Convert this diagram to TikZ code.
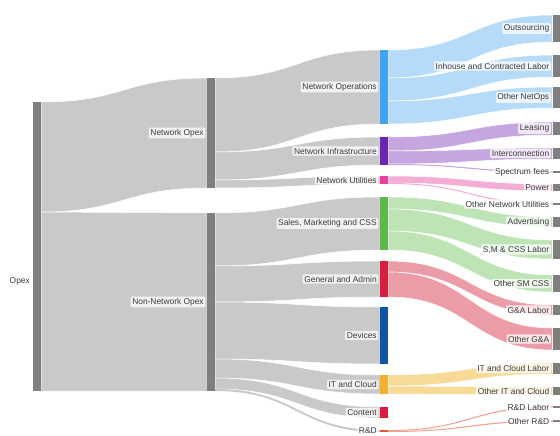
\documentclass[tikz,border=0pt]{standalone}
\usepackage{fontspec}
\setmainfont{Liberation Sans}
\usetikzlibrary{calc}
\definecolor{gbar}{HTML}{7F7F7F}
\definecolor{gflow}{HTML}{C9C9C9}
\definecolor{opsblue}{HTML}{3FA3F2}
\definecolor{opsflow}{HTML}{B5DBF8}
\definecolor{infrapurple}{HTML}{6A26AC}
\definecolor{infraflow}{HTML}{C5A6E1}
\definecolor{utilpink}{HTML}{E8409C}
\definecolor{utilflow}{HTML}{F4AED6}
\definecolor{salesgreen}{HTML}{5CB94C}
\definecolor{salesflow}{HTML}{BEE3B4}
\definecolor{gared}{HTML}{D6203C}
\definecolor{gaflow}{HTML}{EC9CA7}
\definecolor{devblue}{HTML}{0D56A3}
\definecolor{itorange}{HTML}{F1B12C}
\definecolor{itflow}{HTML}{F8DA97}
\definecolor{contred}{HTML}{D81E3A}
\definecolor{rdorange}{HTML}{EC5433}
\definecolor{rdflow}{HTML}{F0A393}
\definecolor{labeltext}{HTML}{3C3C3C}

\pgfdeclarelayer{bands}
\pgfsetlayers{bands,main}

\tikzset{
  seam/.style={draw=white, line width=0.5pt},
  thinband/.style={draw=none},
  barbox/.style={rectangle, inner sep=0pt, outer sep=0pt, minimum width=8pt,
    anchor=north west, draw=none},
  tag/.style={anchor=east, fill=white, fill opacity=0.75, text opacity=1,
    text=labeltext, inner xsep=1.6pt, inner ysep=1.5pt, rounded corners=1pt,
    font=\fontsize{8.4}{9}\selectfont},
  plain/.style={anchor=east, text=labeltext, inner sep=1pt,
    font=\fontsize{8.4}{9}\selectfont},
}

% a stage of the sankey: name, colour, left x, top y, bottom y
\newcommand{\stagebar}[5]{%
  \pgfmathsetmacro{\sbh}{max(#5-#4,1.2)}%
  \node[barbox, fill=#2, minimum height=\sbh pt] (#1) at (#3,#4) {};}

% a band between two stages: [style] colour, source, top/bottom offset on it,
% target, top/bottom offset on it (offsets measured down from the bar tops)
\newcommand{\flowband}[8][seam]{%
  \path[fill=#2,#1] let \p1=(#3.north east), \p2=(#6.north west) in
    ({\x1},{\y1-#4pt}) .. controls ({0.5*(\x1+\x2)},{\y1-#4pt}) and ({0.5*(\x1+\x2)},{\y2-#7pt}) .. ({\x2},{\y2-#7pt})
    -- ({\x2},{\y2-#8pt}) .. controls ({0.5*(\x1+\x2)},{\y2-#8pt}) and ({0.5*(\x1+\x2)},{\y1-#5pt}) .. ({\x1},{\y1-#5pt}) -- cycle;}

% label on the left of a stage
\newcommand{\stagetag}[2]{\node[tag] (#1-tag) at ([xshift=-1.5pt]#1.west) {#2};}

\begin{document}
\begin{tikzpicture}[x=1pt,y=-1pt]
\useasboundingbox (0,0) rectangle (560,436);

% ---- stages ----
\stagebar{opex}{gbar}{33}{102}{391}
\stagebar{netopex}{gbar}{207}{78}{188}
\stagebar{nonnet}{gbar}{207}{213}{391}

\stagebar{netops}{opsblue}{380}{50}{124}
\stagebar{netinfra}{infrapurple}{380}{137}{165}
\stagebar{netutil}{utilpink}{380}{176}{184}
\stagebar{sales}{salesgreen}{380}{197}{250}
\stagebar{gna}{gared}{380}{261}{297}
\stagebar{devices}{devblue}{380}{307}{364}
\stagebar{itc}{itorange}{380}{375}{394}
\stagebar{content}{contred}{380}{407}{418}
\stagebar{rnd}{rdorange}{380}{430}{432}

\stagebar{outs}{gbar}{552.5}{15}{42}
\stagebar{inhouse}{gbar}{552.5}{55}{77}
\stagebar{othnetops}{gbar}{552.5}{87}{108}
\stagebar{leasing}{gbar}{552.5}{122}{135}
\stagebar{interc}{gbar}{552.5}{148}{159}
\stagebar{spectrum}{gbar}{552.5}{171.4}{172.6}
\stagebar{power}{gbar}{552.5}{184}{191}
\stagebar{othnu}{gbar}{552.5}{203.4}{204.6}
\stagebar{advert}{gbar}{552.5}{217}{227}
\stagebar{smlabor}{gbar}{552.5}{240}{259}
\stagebar{othsm}{gbar}{552.5}{275}{292}
\stagebar{galabor}{gbar}{552.5}{305}{315}
\stagebar{othga}{gbar}{552.5}{328}{350}
\stagebar{itlabor}{gbar}{552.5}{363}{374}
\stagebar{othit}{gbar}{552.5}{387}{395}
\stagebar{rdlabor}{gbar}{552.5}{406.4}{407.6}
\stagebar{othrd}{gbar}{552.5}{420.4}{421.6}

% ---- bands, kept behind the bars ----
\begin{pgfonlayer}{bands}
\flowband{gflow}{opex}{0}{110}{netopex}{0}{110}
\flowband{gflow}{opex}{110}{289}{nonnet}{0}{178}

\flowband{gflow}{netopex}{0}{74}{netops}{0}{74}
\flowband{gflow}{netopex}{74}{102}{netinfra}{0}{28}
\flowband{gflow}{netopex}{102}{110}{netutil}{0}{8}

\flowband{gflow}{nonnet}{0}{53}{sales}{0}{53}
\flowband{gflow}{nonnet}{53}{89}{gna}{0}{36}
\flowband{gflow}{nonnet}{89}{146}{devices}{0}{57}
\flowband{gflow}{nonnet}{146}{165}{itc}{0}{19}
\flowband{gflow}{nonnet}{165}{176}{content}{0}{11}
\flowband[thinband]{gflow}{nonnet}{176}{178}{rnd}{0}{2}

\flowband{opsflow}{netops}{0}{28}{outs}{0}{27}
\flowband{opsflow}{netops}{28}{51}{inhouse}{0}{22}
\flowband{opsflow}{netops}{51}{74}{othnetops}{0}{21}

\flowband{infraflow}{netinfra}{0}{14}{leasing}{0}{13}
\flowband{infraflow}{netinfra}{14}{27}{interc}{0}{11}
\flowband[thinband]{infraflow}{netinfra}{27}{28}{spectrum}{0}{1.2}

\flowband{utilflow}{netutil}{0}{7}{power}{0}{7}
\flowband[thinband]{utilflow}{netutil}{7}{8}{othnu}{0}{1.2}

\flowband{salesflow}{sales}{0}{12}{advert}{0}{10}
\flowband{salesflow}{sales}{12}{34}{smlabor}{0}{19}
\flowband{salesflow}{sales}{34}{53}{othsm}{0}{17}

\flowband{gaflow}{gna}{0}{11}{galabor}{0}{10}
\flowband{gaflow}{gna}{11}{36}{othga}{0}{22}

\flowband{itflow}{itc}{0}{11}{itlabor}{0}{11}
\flowband{itflow}{itc}{11}{19}{othit}{0}{8}

\flowband[thinband]{rdflow}{rnd}{0}{1}{rdlabor}{0}{1.2}
\flowband[thinband]{rdflow}{rnd}{1}{2}{othrd}{0}{1.2}
\end{pgfonlayer}

% ---- labels ----
\node[plain] (opex-tag) at (31,281) {Opex};
\stagetag{netopex}{Network Opex}
\stagetag{nonnet}{Non-Network Opex}

\stagetag{netops}{Network Operations}
\stagetag{netinfra}{Network Infrastructure}
\stagetag{netutil}{Network Utilities}
\stagetag{sales}{Sales, Marketing and CSS}
\stagetag{gna}{General and Admin}
\stagetag{devices}{Devices}
\stagetag{itc}{IT and Cloud}
\stagetag{content}{Content}
\stagetag{rnd}{R\&D}

\stagetag{outs}{Outsourcing}
\stagetag{inhouse}{Inhouse and Contracted Labor}
\stagetag{othnetops}{Other NetOps}
\stagetag{leasing}{Leasing}
\stagetag{interc}{Interconnection}
\stagetag{spectrum}{Spectrum fees}
\stagetag{power}{Power}
\stagetag{othnu}{Other Network Utilities}
\stagetag{advert}{Advertising}
\stagetag{smlabor}{S,M \& CSS Labor}
\stagetag{othsm}{Other SM CSS}
\stagetag{galabor}{G\&A Labor}
\stagetag{othga}{Other G\&A}
\stagetag{itlabor}{IT and Cloud Labor}
\stagetag{othit}{Other IT and Cloud}
\stagetag{rdlabor}{R\&D Labor}
\stagetag{othrd}{Other R\&D}
\end{tikzpicture}
\end{document}
